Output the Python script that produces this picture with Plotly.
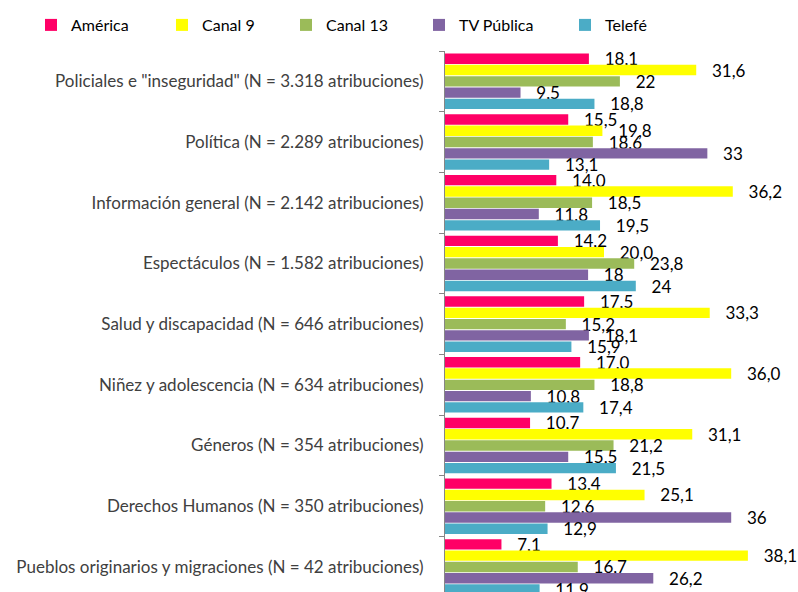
import plotly.graph_objects as go

categories = [
    'Policiales e "inseguridad" (N = 3.318 atribuciones)',
    'Política (N = 2.289 atribuciones)',
    'Información general (N = 2.142 atribuciones)',
    'Espectáculos (N = 1.582 atribuciones)',
    'Salud y discapacidad (N = 646 atribuciones)',
    'Niñez y adolescencia (N = 634 atribuciones)',
    'Géneros (N = 354 atribuciones)',
    'Derechos Humanos (N = 350 atribuciones)',
    'Pueblos originarios y migraciones (N = 42 atribuciones)',
]

series_names = ["América", "Canal 9", "Canal 13", "TV Pública", "Telefé"]

america = [18.1, 15.5, 14.0, 14.2, 17.5, 17.0, 10.7, 13.4, 7.1]
canal9 = [31.6, 19.8, 36.2, 20.0, 33.3, 36.0, 31.1, 25.1, 38.1]
canal13 = [22, 18.6, 18.5, 23.8, 15.2, 18.8, 21.2, 12.6, 16.7]
tv_publica = [9.5, 33, 11.8, 18, 18.1, 10.8, 15.5, 36, 26.2]
telefe = [18.8, 13.1, 19.5, 24, 15.9, 17.4, 21.5, 12.9, 11.9]

america_labels = ["18,1", "15,5", "14,0", "14,2", "17,5", "17,0", "10,7", "13,4", "7,1"]
canal9_labels = ["31,6", "19,8", "36,2", "20,0", "33,3", "36,0", "31,1", "25,1", "38,1"]
canal13_labels = ["22", "18,6", "18,5", "23,8", "15,2", "18,8", "21,2", "12,6", "16,7"]
tv_publica_labels = ["9,5", "33", "11,8", "18", "18,1", "10,8", "15,5", "36", "26,2"]
telefe_labels = ["18,8", "13,1", "19,5", "24", "15,9", "17,4", "21,5", "12,9", "11,9"]

colors = ["#FF0066", "#FFFF00", "#9BBB59", "#8064A2", "#4BACC6"]

all_values = [america, canal9, canal13, tv_publica, telefe]
all_labels = [america_labels, canal9_labels, canal13_labels, tv_publica_labels, telefe_labels]

W, H = 798, 592
# legend entry left positions (pixels), converted to fractions of width
legend_px = [31, 162, 286, 419, 565]
legend_ids = ["legend", "legend2", "legend3", "legend4", "legend5"]

FONT = "Lato"
PAD = "\u2002\u2005"

fig = go.Figure()
for name, vals, labs, col, lid in zip(series_names, all_values, all_labels, colors, legend_ids):
    fig.add_trace(go.Bar(
        name=name,
        y=categories,
        x=vals,
        orientation="h",
        marker=dict(color=col, line=dict(width=0)),
        text=[PAD + s for s in labs],
        textposition="outside",
        textfont=dict(family=FONT, size=17, color="#000000"),
        cliponaxis=False,
        constraintext="none",
        hoverinfo="x+name",
        legend=lid,
        showlegend=True,
    ))

legend_layout = {}
for lid, lx in zip(legend_ids, legend_px):
    legend_layout[lid] = dict(
        orientation="h",
        xref="container", yref="container",
        x=lx / W, y=1 - 8 / H, xanchor="left", yanchor="top",
        font=dict(family=FONT, size=16, color="#000000"),
        bgcolor="rgba(0,0,0,0)",
        itemwidth=30,
    )

fig.update_layout(
    width=W,
    height=H,
    showlegend=True,
    margin=dict(l=445, r=W - 763, t=51, b=0),
    paper_bgcolor="white",
    plot_bgcolor="white",
    barmode="group",
    bargap=0.07,
    bargroupgap=0.08,
    font=dict(family=FONT, size=17, color="#404040"),
    xaxis=dict(
        range=[0, 40],
        visible=False,
        showgrid=False,
        zeroline=False,
    ),
    yaxis=dict(
        type="category",
        range=[8.413, -0.5],
        showline=True,
        linecolor="#868686",
        linewidth=1,
        ticks="outside",
        tickson="boundaries",
        ticklen=5,
        tickcolor="#868686",
        showgrid=False,
        tickfont=dict(family=FONT, size=17, color="#404040"),
        ticklabelstandoff=17,
    ),
    **legend_layout,
)

fig.write_html(
    "out.html",
    config={"displayModeBar": False},
    post_script="document.body.style.margin='0';document.body.style.overflow='hidden';",
)
